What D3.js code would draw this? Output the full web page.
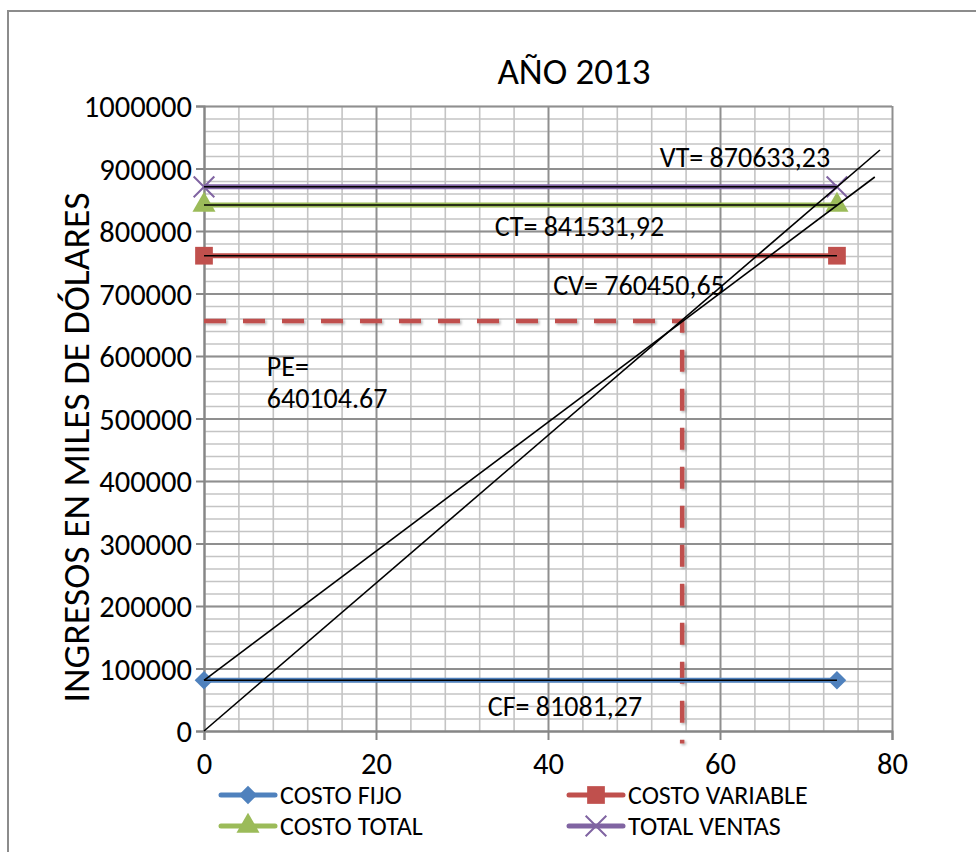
<!DOCTYPE html>
<html>
<head>
<meta charset="utf-8">
<script src="https://cdn.jsdelivr.net/npm/d3@7"></script>
<style>
  body { margin: 0; background: #fff; }
  svg text { font-family: Carlito, Calibri, Lato, sans-serif; fill: #000; }
</style>
</head>
<body>
<div id="chart"></div>
<script>
// series data
var seriesNames  = ["COSTO FIJO", "COSTO VARIABLE", "COSTO TOTAL", "TOTAL VENTAS"];
var seriesValues = [81081.27, 760450.65, 841531.92, 870633.23];
var seriesX      = [0, 73.6];

// hand drawn lines: sales and total cost
var ventasX = [0, 78.6],  ventasY = [0, 929600];
var costoX  = [0, 78.0],  costoY  = [81081.27, 886400];

// break-even guide (dashed)
var peX = [0, 55.6, 55.6],  peY = [656000, 656000, -20000];

// tick values
var xTicks = [0, 20, 40, 60, 80];
var yTicks = d3.range(0, 1000001, 100000);

// text boxes
var notes = ["VT= 870633,23", "CT= 841531,92", "CV= 760450,65", "PE=", "640104.67", "CF= 81081,27"];
var noteX = [53.0, 33.8, 40.6, 7.3, 7.3, 33.0];
var noteY = [918400, 808000, 713600, 584000, 532800, 40000];

var colors = ["#4F81BD", "#C0504D", "#9BBB59", "#8064A2"];
var symbols = [d3.symbolDiamond2, d3.symbolSquare2, d3.symbolTriangle2, d3.symbolX];
var symSize = [220, 400, 380, 280];

var W = 976, H = 852;
var margin = {top: 106, right: 84, bottom: 121, left: 204},
    width = 892 - margin.left,
    height = 731 - margin.top;

var svg = d3.select("#chart").append("svg")
    .attr("width", W).attr("height", H);

var defs = svg.append("defs");
var sh = defs.append("filter").attr("id", "shadow")
    .attr("x", "-20%").attr("y", "-20%").attr("width", "140%").attr("height", "140%");
sh.append("feDropShadow").attr("dx", 1.5).attr("dy", 1.5).attr("stdDeviation", 1.2)
    .attr("flood-color", "#000").attr("flood-opacity", 0.3);

// outer chart frame
svg.append("rect")
    .attr("x", 8).attr("y", 11).attr("width", 1000).attr("height", 900)
    .attr("fill", "none").attr("stroke", "#8c8c8c").attr("stroke-width", 2);

var g = svg.append("g")
    .attr("transform", "translate(" + margin.left + "," + margin.top + ")");

var x = d3.scaleLinear().domain([0, 80]).range([0, width]);
var y = d3.scaleLinear().domain([0, 1000000]).range([height, 0]);

// minor grid
g.append("g").attr("class", "grid minor")
  .call(d3.axisBottom(x).tickValues(d3.range(0, 81, 4)).tickSize(height).tickFormat(""));
g.append("g").attr("class", "grid minor")
  .call(d3.axisLeft(y).tickValues(d3.range(0, 1000001, 20000)).tickSize(-width).tickFormat(""));
g.selectAll(".grid.minor line").attr("stroke", "#c4c4c4").attr("stroke-width", 1.6);

// major grid
g.append("g").attr("class", "grid major")
  .call(d3.axisBottom(x).tickValues(xTicks).tickSize(height).tickFormat(""));
g.append("g").attr("class", "grid major")
  .call(d3.axisLeft(y).tickValues(yTicks).tickSize(-width).tickFormat(""));
g.selectAll(".grid.major line").attr("stroke", "#8f8f8f").attr("stroke-width", 1.8);
g.selectAll(".grid path").remove();

// axes
var xAxis = g.append("g")
  .attr("transform", "translate(0," + height + ")")
  .call(d3.axisBottom(x).tickValues(xTicks).tickSize(9).tickPadding(12));
var yAxis = g.append("g")
  .call(d3.axisLeft(y).tickValues(yTicks).tickSize(8).tickPadding(4).tickFormat(d3.format("d")));
[xAxis, yAxis].forEach(function(a) {
  a.select(".domain").attr("stroke", "#868686").attr("stroke-width", 2);
  a.selectAll("line").attr("stroke", "#868686").attr("stroke-width", 2);
  a.selectAll("text").style("font-size", "30.5px").attr("fill", "#000");
});
yAxis.selectAll("text").attr("dy", "0.36em");

// dashed break-even guide
var line = d3.line().x(function(d) { return x(d[0]); }).y(function(d) { return y(d[1]); });
g.append("path")
  .datum(d3.zip(peX, peY))
  .attr("d", line)
  .attr("fill", "none").attr("stroke", "#C0504D").attr("stroke-width", 4.5)
  .attr("stroke-dasharray", "22,17").attr("filter", "url(#shadow)");

// series lines with markers
seriesNames.forEach(function(name, i) {
  var pts = seriesX.map(function(v) { return [v, seriesValues[i]]; });
  g.append("path").datum(pts).attr("d", line)
    .attr("fill", "none").attr("stroke", colors[i]).attr("stroke-width", 5);
  g.selectAll(".m" + i).data(pts).enter().append("path")
    .attr("transform", function(d) { return "translate(" + x(d[0]) + "," + y(d[1]) + ")"; })
    .attr("d", d3.symbol().type(symbols[i]).size(symSize[i]))
    .attr("fill", i == 3 ? "none" : colors[i])
    .attr("stroke", colors[i])
    .attr("stroke-width", i == 3 ? 2 : 0);
  // thin black overlay line
  g.append("path").datum(pts).attr("d", line)
    .attr("fill", "none").attr("stroke", "#000").attr("stroke-width", 1.5);
});

// drawn lines (sales / total cost)
g.append("path").datum(d3.zip(ventasX, ventasY)).attr("d", line)
  .attr("fill", "none").attr("stroke", "#000").attr("stroke-width", 1.6);
g.append("path").datum(d3.zip(costoX, costoY)).attr("d", line)
  .attr("fill", "none").attr("stroke", "#000").attr("stroke-width", 1.6);

// text boxes
g.selectAll(".note").data(notes).enter().append("text")
  .attr("class", "note")
  .attr("x", function(d, i) { return x(noteX[i]); })
  .attr("y", function(d, i) { return y(noteY[i]); })
  .attr("dy", "0.36em")
  .style("font-size", "28px")
  .text(function(d) { return d; });

// title
svg.append("text")
  .attr("x", 574).attr("y", 71).attr("dy", "0.36em")
  .attr("text-anchor", "middle").style("font-size", "37px")
  .text("AÑO 2013");

// y axis title
svg.append("text")
  .attr("transform", "translate(75," + (margin.top + height / 2 + 29) + ") rotate(-90)")
  .attr("text-anchor", "middle").attr("dy", "0.36em")
  .style("font-size", "37.8px")
  .text("INGRESOS EN MILES DE DÓLARES");

// legend
var legX = [221, 569, 221, 569], legY = [795, 795, 826, 826];
var leg = svg.selectAll(".leg").data(seriesNames).enter().append("g")
  .attr("transform", function(d, i) { return "translate(" + legX[i] + "," + legY[i] + ")"; });
leg.append("line").attr("x1", 0).attr("x2", 54)
  .attr("stroke", function(d, i) { return colors[i]; })
  .attr("stroke-width", 5).attr("stroke-linecap", "round");
leg.append("path")
  .attr("transform", "translate(27,0)")
  .attr("d", function(d, i) { return d3.symbol().type(symbols[i]).size(symSize[i])(); })
  .attr("fill", function(d, i) { return i == 3 ? "none" : colors[i]; })
  .attr("stroke", function(d, i) { return colors[i]; })
  .attr("stroke-width", function(d, i) { return i == 3 ? 2 : 0; });
leg.append("text").attr("x", 59).attr("dy", "0.36em")
  .style("font-size", "26px")
  .text(function(d) { return d; });
</script>
</body>
</html>
